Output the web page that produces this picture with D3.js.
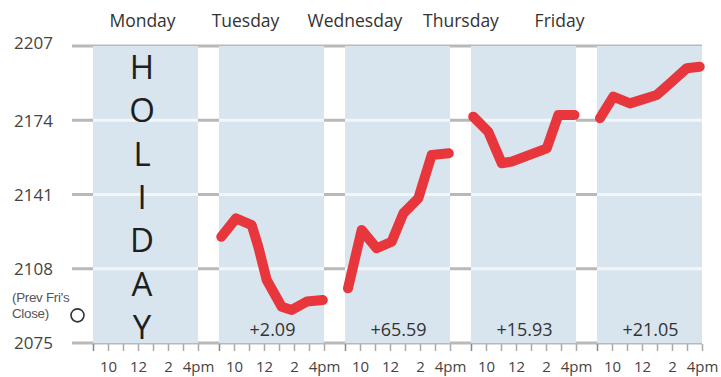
<!DOCTYPE html>
<html>
<head>
<meta charset="utf-8">
<script src="https://cdn.jsdelivr.net/npm/d3@7"></script>
<style>
  html, body { margin: 0; padding: 0; background: #fff; }
  svg { display: block; font-family: "Open Sans", "Noto Sans", sans-serif; }
</style>
</head>
<body>
<svg id="chart" width="721" height="377"></svg>
<script>
// ---------------- DATA ----------------
const days = ["Monday", "Tuesday", "Wednesday", "Thursday", "Friday"];
const yTicks = [2075, 2108, 2141, 2174, 2207];
const hourTicks = [9, 10, 11, 12, 13, 14, 15, 16];
const hourLabels = { 10: "10", 12: "12", 14: "2", 16: "4pm" };
const holidayText = "HOLIDAY";
const prevFriClose = 2087.3;
const prevFriLabel = ["(Prev Fri's", "Close)"];
const dailyChange = ["", "+2.09", "+65.59", "+15.93", "+21.05"];

// intraday series (hour of day, index value)
const tueTimes = [9.15, 10.13, 11.18, 11.62, 12.18, 13.18, 13.85, 14.85, 15.92];
const tueValues = [2122.2, 2130.4, 2127.4, 2117.8, 2103.0, 2091.1, 2089.7, 2093.4, 2094.1];
const wedTimes = [9.2, 10.11, 11.11, 12.11, 12.89, 13.89, 14.78, 15.92];
const wedValues = [2099.3, 2125.2, 2117.1, 2120.0, 2132.6, 2139.3, 2158.6, 2159.3];
const thuTimes = [9.15, 10.15, 11.05, 11.71, 14.05, 14.82, 15.9];
const thuValues = [2175.6, 2168.9, 2154.9, 2155.6, 2161.5, 2176.3, 2176.3];
const friTimes = [9.2, 10.09, 11.2, 12.98, 13.87, 14.98, 15.85];
const friValues = [2174.9, 2184.5, 2181.5, 2185.2, 2190.4, 2197.1, 2197.8];

const seriesByDay = [
  null,
  { times: tueTimes, values: tueValues },
  { times: wedTimes, values: wedValues },
  { times: thuTimes, values: thuValues },
  { times: friTimes, values: friValues }
];

// ---------------- LAYOUT ----------------
const svg = d3.select("#chart");
const plotTop = 46, plotBottom = 343, plotLeft = 93, plotRight = 702;
const gridLeft = 72;
const dayLabelPos = [142.5, 245.5, 355, 461, 559.5];

const y = d3.scaleLinear().domain([2075, 2207]).range([plotBottom, plotTop]);
const dayBand = d3.scaleBand().domain(days).range([plotLeft, plotRight])
  .paddingInner(21 / 126).paddingOuter(0);
const hourScale = (day) => d3.scaleLinear().domain([9, 16])
  .range([dayBand(day), dayBand(day) + dayBand.bandwidth()]);

// grey grid lines (visible in gaps and left)
svg.append("g").selectAll("line").data(yTicks).join("line")
  .attr("x1", gridLeft).attr("x2", plotRight)
  .attr("y1", d => y(d)).attr("y2", d => y(d))
  .attr("stroke", "#b9b9b9").attr("stroke-width", 3);

// day panels
svg.append("g").selectAll("rect").data(days).join("rect")
  .attr("x", d => dayBand(d)).attr("width", dayBand.bandwidth())
  .attr("y", y(2207)).attr("height", y(2075) - y(2207))
  .attr("fill", "#d9e5ee");

// white grid lines inside panels
const inner = yTicks.filter(v => v !== 2075 && v !== 2207);
days.forEach(d => {
  svg.append("g").selectAll("line").data(inner).join("line")
    .attr("x1", dayBand(d)).attr("x2", dayBand(d) + dayBand.bandwidth())
    .attr("y1", v => y(v)).attr("y2", v => y(v))
    .attr("stroke", "#f3f6f9").attr("stroke-width", 3);
});

// y axis labels
const yAxis = d3.axisLeft(y).tickValues(yTicks).tickSize(0).tickPadding(0)
  .tickFormat(d3.format("d"));
const gy = svg.append("g").attr("transform", "translate(53,0)").call(yAxis);
gy.select(".domain").remove();
gy.selectAll("text").attr("font-size", 17).attr("fill", "#444")
  .attr("font-family", "'Open Sans', sans-serif").attr("dy", "0.35em");
gy.selectAll(".tick").filter(d => d === 2207).select("text").attr("dy", "0.15em");

// bottom hour axes
days.forEach(d => {
  const ax = d3.axisBottom(hourScale(d)).tickValues(hourTicks)
    .tickSize(7).tickPadding(10)
    .tickFormat(h => hourLabels[h] || "");
  const g = svg.append("g").attr("transform", `translate(0,${plotBottom + 1})`).call(ax);
  g.select(".domain").remove();
  g.selectAll("line").attr("stroke", h => h === 9 ? "#888" : "#aaaaaa").attr("stroke-width", 1.5);
  g.selectAll("text").attr("font-size", 15).attr("fill", "#444")
    .attr("font-family", "'Open Sans', sans-serif");
});

// day labels
svg.append("g").selectAll("text").data(days).join("text")
  .attr("x", (d, i) => dayLabelPos[i]).attr("y", 27)
  .attr("text-anchor", "middle").attr("font-size", 17.5).attr("fill", "#333")
  .text(d => d);

// HOLIDAY letters
const letters = holidayText.split("");
const letterY = d3.scalePoint().domain(d3.range(letters.length)).range([67, 327]);
svg.append("g").selectAll("text").data(letters).join("text")
  .attr("x", 142).attr("y", (d, i) => letterY(i))
  .attr("dy", "0.36em")
  .attr("text-anchor", "middle").attr("font-size", 33).attr("fill", "#1e1e1e")
  .attr("font-weight", 400)
  .text(d => d);

// prev Friday close marker
svg.append("g").selectAll("text").data(prevFriLabel).join("text")
  .attr("x", 12).attr("y", (d, i) => 302 + i * 16)
  .attr("font-size", 13.4).attr("fill", "#555").attr("letter-spacing", -0.3)
  .attr("font-family", "'Liberation Sans', Arial, sans-serif")
  .text(d => d);
svg.append("circle").attr("cx", 77.5).attr("cy", y(prevFriClose)).attr("r", 6.5)
  .attr("fill", "none").attr("stroke", "#333").attr("stroke-width", 1.6);

// daily changes
svg.append("g").selectAll("text").data(dailyChange).join("text")
  .attr("x", (d, i) => dayBand(days[i]) + dayBand.bandwidth() / 2 + 1)
  .attr("y", 336).attr("text-anchor", "middle")
  .attr("font-size", 18).attr("fill", "#333")
  .text(d => d);

// intraday lines
days.forEach((d, i) => {
  const s = seriesByDay[i];
  if (!s) return;
  const x = hourScale(d);
  const pts = s.times.map((t, k) => [t, s.values[k]]);
  const line = d3.line().x(p => x(p[0])).y(p => y(p[1]));
  svg.append("path").datum(pts).attr("d", line)
    .attr("fill", "none").attr("stroke", "#e8363d").attr("stroke-width", 10)
    .attr("stroke-linecap", "round").attr("stroke-linejoin", "round");
});
</script>
</body>
</html>
